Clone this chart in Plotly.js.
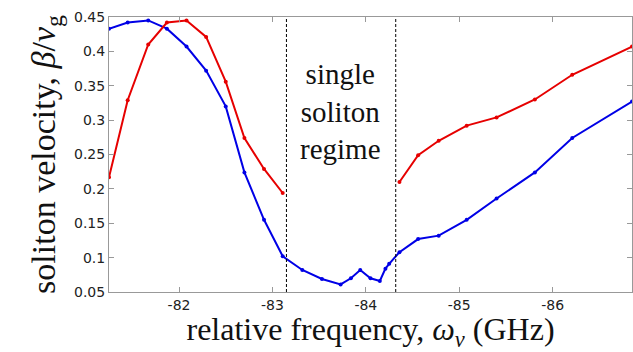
<!DOCTYPE html>
<html>
<head>
<meta charset="utf-8">
<script src="https://cdn.plot.ly/plotly-3.0.1.min.js"></script>
<style>html,body{margin:0;padding:0;background:#fff;}</style>
</head>
<body>
<div id="chart" style="width:633px;height:352px;"></div>
<script>
// Blue series
const blueX = [-81.25, -81.45, -81.67, -81.87, -82.08, -82.29, -82.50, -82.70, -82.91, -83.11, -83.32, -83.53, -83.73, -83.84, -83.94, -84.05, -84.15, -84.21, -84.25, -84.36, -84.56, -84.78, -85.08, -85.40, -85.81, -86.21, -86.85];
const blueY = [0.433, 0.442, 0.445, 0.433, 0.407, 0.372, 0.320, 0.224, 0.155, 0.102, 0.082, 0.069, 0.061, 0.070, 0.082, 0.070, 0.066, 0.084, 0.091, 0.108, 0.127, 0.132, 0.155, 0.186, 0.224, 0.274, 0.327];
// Red series (two branches, gap = single soliton regime)
const redX = [-81.25, -81.45, -81.67, -81.87, -82.08, -82.29, -82.50, -82.70, -82.91, -83.11, null, -84.36, -84.56, -84.78, -85.08, -85.40, -85.81, -86.21, -86.85];
const redY = [0.217, 0.329, 0.410, 0.442, 0.445, 0.421, 0.356, 0.274, 0.229, 0.194, null, 0.210, 0.249, 0.270, 0.292, 0.304, 0.330, 0.366, 0.407];
// Regime boundaries
const boundaries = [-83.15, -84.32];
// Ticks
const xTickVals = [-82, -83, -84, -85, -86];
const xTickText = ['-82', '-83', '-84', '-85', '-86'];
const yTickVals = [0.05, 0.1, 0.15, 0.2, 0.25, 0.3, 0.35, 0.4, 0.45];
const yTickText = ['0.05', '0.1', '0.15', '0.2', '0.25', '0.3', '0.35', '0.4', '0.45'];
const xRange = [-81.25, -86.85];
const yRange = [0.05, 0.45];

const traces = [
  {x: blueX, y: blueY, type: 'scatter', mode: 'lines+markers',
   line: {color: '#0000e6', width: 2}, marker: {color: '#0000e6', size: 4}},
  {x: redX, y: redY, type: 'scatter', mode: 'lines+markers', connectgaps: false,
   line: {color: '#e60000', width: 2}, marker: {color: '#e60000', size: 4}}
];

const shapes = boundaries.map(b => ({
  type: 'line', xref: 'x', yref: 'paper', x0: b, x1: b, y0: 0, y1: 1,
  line: {color: '#000', width: 1, dash: '3px,2px'}
}));

const axisCommon = {
  showgrid: false, zeroline: false, showline: true, linecolor: '#999', linewidth: 1,
  mirror: 'ticks', ticks: 'inside', ticklen: 5, tickcolor: '#999',
  tickfont: {family: 'DejaVu Sans', size: 14, color: '#222'}
};

const layout = {
  width: 633, height: 352,
  margin: {l: 109, r: 1, t: 17, b: 60},
  paper_bgcolor: '#fff', plot_bgcolor: '#fff',
  showlegend: false,
  xaxis: Object.assign({}, axisCommon, {
    range: xRange, tickvals: xTickVals, ticktext: xTickText,
    title: {text: 'relative frequency, <i>ω</i><sub><i>v</i></sub> (GHz)',
            font: {family: 'Liberation Serif', size: 32, color: '#111'}, standoff: 8}
  }),
  yaxis: Object.assign({}, axisCommon, {
    range: yRange, tickvals: yTickVals, ticktext: yTickText,
    title: {text: 'soliton velocity, <i>β</i>/<i>v</i><sub>g</sub>',
            font: {family: 'Liberation Serif', size: 34, color: '#111'}, standoff: 8}
  }),
  shapes: shapes,
  annotations: [{
    xref: 'x', yref: 'y', x: -83.73, y: 0.312,
    text: 'single<br>soliton<br>regime', showarrow: false,
    font: {family: 'Liberation Serif', size: 29, color: '#111'}
  }]
};

Plotly.newPlot('chart', traces, layout, {displayModeBar: false, staticPlot: true});
</script>
</body>
</html>
